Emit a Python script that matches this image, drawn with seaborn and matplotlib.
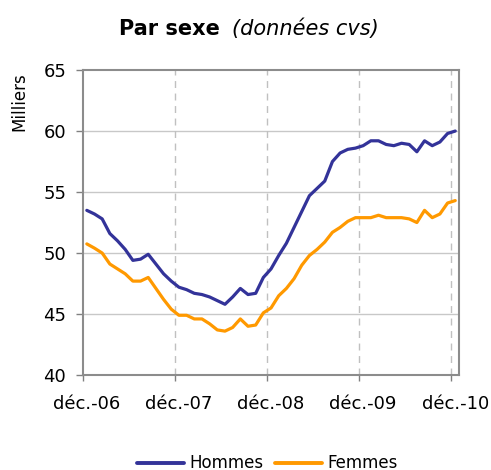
import numpy as np
import pandas as pd
import matplotlib
matplotlib.use("Agg")
import matplotlib.pyplot as plt
import seaborn as sns

# monthly series, déc.-06 .. déc.-10 (49 months), milliers, cvs
hommes = [53.5, 53.2, 52.8, 51.6, 51.0, 50.3, 49.4, 49.5, 49.9, 49.1,
          48.3, 47.7, 47.2, 47.0, 46.7, 46.6, 46.4, 46.1, 45.8, 46.4,
          47.1, 46.6, 46.7, 48.0, 48.7, 49.8, 50.8, 52.1, 53.4, 54.7,
          55.3, 55.9, 57.5, 58.2, 58.5, 58.6, 58.8, 59.2, 59.2, 58.9,
          58.8, 59.0, 58.9, 58.3, 59.2, 58.8, 59.1, 59.8, 60.0]
femmes = [50.75, 50.4, 50.0, 49.1, 48.7, 48.3, 47.7, 47.7, 48.0, 47.1,
          46.2, 45.4, 44.9, 44.9, 44.6, 44.6, 44.2, 43.7, 43.6, 43.9,
          44.6, 44.0, 44.1, 45.1, 45.5, 46.5, 47.1, 47.9, 49.0, 49.8,
          50.3, 50.9, 51.7, 52.1, 52.6, 52.9, 52.9, 52.9, 53.1, 52.9,
          52.9, 52.9, 52.8, 52.5, 53.5, 52.9, 53.2, 54.1, 54.3]
tick_labels = ["déc.-06", "déc.-07", "déc.-08", "déc.-09", "déc.-10"]
colors = {"Hommes": "#333399", "Femmes": "#FF9900"}

months = np.arange(len(hommes))
df = pd.DataFrame({"mois": np.concatenate([months, months]),
                   "valeur": hommes + femmes,
                   "sexe": ["Hommes"] * len(hommes) + ["Femmes"] * len(femmes)})

sns.set_style("white")
plt.rcParams["font.family"] = ["DejaVu Sans"]
plt.rcParams["text.color"] = "black"
plt.rcParams["xtick.color"] = "black"
plt.rcParams["ytick.color"] = "black"

fig = plt.figure(figsize=(4.91, 4.70), dpi=100)
ax = fig.add_axes([0.169, 0.202, 0.766, 0.649])

# horizontal grid
for yv in [45, 50, 55, 60]:
    ax.axhline(yv, color="#c8c8c8", lw=1, zorder=0)
# Excel style: labels on the december category, marks between categories
label_pos = [12 * k for k in range(len(tick_labels))]
mark_pos = [p - 0.5 for p in label_pos]
for xv in mark_pos[1:]:
    ax.axvline(xv, color="#c0c0c0", lw=1, ls=(0, (5, 4)), zorder=0)

sns.lineplot(data=df, x="mois", y="valeur", hue="sexe", palette=colors,
             lw=2.3, ax=ax, legend=False)

ax.set_xlim(-0.5, len(hommes) - 0.5)
ax.set_ylim(40, 65)
ax.set_yticks([40, 45, 50, 55, 60, 65])
ax.set_xticks(label_pos)
ax.set_xticklabels(tick_labels)
ax.set_xticks(mark_pos, minor=True)
ax.tick_params(axis="x", which="major", labelsize=13, length=0, pad=14,
               labelcolor="black")
ax.tick_params(axis="x", which="minor", length=4, width=1, color="#808080",
               bottom=True, direction="out")
ax.tick_params(axis="y", labelsize=13, direction="out", length=5,
               width=1, color="#808080", pad=7, left=True, labelcolor="black")
ax.set_xlabel("")
ax.set_ylabel("")
for s in ax.spines.values():
    s.set_color("#8c8c8c")
    s.set_linewidth(1.5)

fig.text(0.039, 0.783, "Milliers", rotation=90, fontsize=12,
         ha="center", va="center")

fig.text(0.448, 0.938, "Par sexe", fontsize=15, fontweight="bold",
         ha="right", va="center")
fig.text(0.4725, 0.938, "(données cvs)", fontsize=15, style="italic",
         ha="left", va="center")

handles = [plt.Line2D([], [], color=colors[k], lw=2.8) for k in colors]
fig.legend(handles, list(colors), loc="center", bbox_to_anchor=(0.545, 0.014),
           ncol=2, frameon=False, fontsize=12, handlelength=2.8,
           handletextpad=0.35, columnspacing=0.7)

fig.savefig("out.png", dpi=100)
